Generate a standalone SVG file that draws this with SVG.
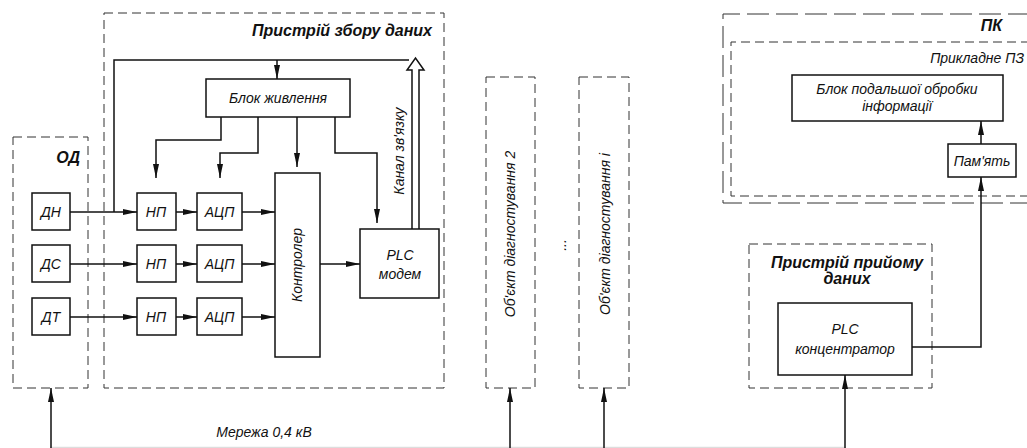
<svg xmlns="http://www.w3.org/2000/svg" width="1027" height="448" viewBox="0 0 1027 448">
<style>
.box{fill:#fff;stroke:#111;stroke-width:1.5}
.dash{fill:none;stroke:#333;stroke-width:1;stroke-dasharray:9 5}
.dashL{fill:none;stroke:#333;stroke-width:1;stroke-dasharray:22 7}
.ln{fill:none;stroke:#111;stroke-width:1.5}
.t{font-family:"Liberation Sans",Arial,sans-serif;font-style:italic;font-size:14px;fill:#111;text-anchor:middle}
.tb{font-family:"Liberation Sans",Arial,sans-serif;font-style:italic;font-weight:bold;font-size:16px;fill:#111}
.e{text-anchor:end}
.m{text-anchor:middle}
</style>
<defs>
<marker id="ah" viewBox="0 0 14 6" refX="14" refY="3" markerWidth="14" markerHeight="6" orient="auto" markerUnits="userSpaceOnUse">
<path d="M0,0 L14,3 L0,6 z" fill="#111"/>
</marker>
</defs>

<g id="network">
<line x1="50" y1="447.5" x2="846" y2="447.5" stroke="#ddd" stroke-width="1.5"/>
<text class="t" x="264" y="437" font-size="15.5">Мережа 0,4 кВ</text>
</g>

<g id="od">
<rect class="dash" x="13" y="137" width="75" height="251"/>
<text class="tb e" x="80" y="163">ОД</text>
</g>
<g id="dn"><rect class="box" x="32" y="193" width="38" height="37"/><text class="t" x="51" y="217">ДН</text></g>
<g id="ds"><rect class="box" x="32" y="245" width="38" height="37"/><text class="t" x="51" y="269">ДС</text></g>
<g id="dt"><rect class="box" x="32" y="298" width="38" height="37"/><text class="t" x="51" y="322">ДТ</text></g>

<g id="collector">
<rect class="dash" x="104" y="13" width="340" height="375"/>
<text class="tb e" x="432" y="36">Пристрій збору даних</text>
</g>
<g id="power"><rect class="box" x="206" y="79" width="144" height="38"/><text class="t" x="278" y="103" font-size="15">Блок живлення</text></g>
<g id="np1"><rect class="box" x="137" y="193" width="39" height="37"/><text class="t" x="156" y="217">НП</text></g>
<g id="np2"><rect class="box" x="137" y="245" width="39" height="37"/><text class="t" x="156" y="269">НП</text></g>
<g id="np3"><rect class="box" x="137" y="298" width="39" height="37"/><text class="t" x="156" y="322">НП</text></g>
<g id="adc1"><rect class="box" x="197" y="193" width="45" height="37"/><text class="t" x="219.5" y="217">АЦП</text></g>
<g id="adc2"><rect class="box" x="197" y="245" width="45" height="37"/><text class="t" x="219.5" y="269">АЦП</text></g>
<g id="adc3"><rect class="box" x="197" y="298" width="45" height="37"/><text class="t" x="219.5" y="322">АЦП</text></g>
<g id="controller"><rect class="box" x="275" y="173" width="45" height="184"/><text class="t" transform="translate(302,265) rotate(-90)">Контролер</text></g>
<g id="plcmodem"><rect class="box" x="360" y="229" width="79" height="69"/><text class="t" x="400" y="260">PLC</text><text class="t" x="400" y="279">модем</text></g>
<text class="t" transform="translate(404,151) rotate(-90)">Канал зв'язку</text>

<g id="obj2"><rect class="dash" x="486" y="77" width="49" height="311"/><text class="t" transform="translate(515,234) rotate(-90)">Об'єкт діагностування 2</text></g>
<text class="t" transform="translate(566,245) rotate(-90)" font-size="10">...</text>
<g id="obji"><rect class="dash" x="579" y="77" width="50" height="311"/><text class="t" transform="translate(610,234) rotate(-90)">Об'єкт діагностування і</text></g>

<g id="pc">
<path class="dashL" d="M1030,14 H723 V203 H1030"/>
<text class="tb e" x="1002" y="31">ПК</text>
</g>
<g id="software">
<path class="dash" d="M1030,42 H731 V196 H1030"/>
<text class="t e" x="1024" y="63">Прикладне ПЗ</text>
</g>
<g id="processing"><rect class="box" x="792" y="75" width="211" height="46"/><text class="t" x="897" y="94">Блок подальшої обробки</text><text class="t" x="897" y="111">інформації</text></g>
<g id="memory"><rect class="box" x="948" y="144" width="68" height="33"/><text class="t" x="982" y="166">Пам'ять</text></g>

<g id="receiver">
<rect class="dash" x="749" y="244" width="183" height="144"/>
<text class="tb m" x="847" y="268">Пристрій прийому</text>
<text class="tb m" x="847" y="284">даних</text>
</g>
<g id="concentrator"><rect class="box" x="778" y="303" width="134" height="72"/><text class="t" x="845" y="334">PLC</text><text class="t" x="845" y="354">концентратор</text></g>

<g id="connectors">
<line class="ln" x1="70" y1="212" x2="137" y2="212" marker-end="url(#ah)"/>
<line class="ln" x1="70" y1="264" x2="137" y2="264" marker-end="url(#ah)"/>
<line class="ln" x1="70" y1="317" x2="137" y2="317" marker-end="url(#ah)"/>
<line class="ln" x1="176" y1="212" x2="197" y2="212" marker-end="url(#ah)"/>
<line class="ln" x1="176" y1="264" x2="197" y2="264" marker-end="url(#ah)"/>
<line class="ln" x1="176" y1="317" x2="197" y2="317" marker-end="url(#ah)"/>
<line class="ln" x1="242" y1="212" x2="275" y2="212" marker-end="url(#ah)"/>
<line class="ln" x1="242" y1="264" x2="275" y2="264" marker-end="url(#ah)"/>
<line class="ln" x1="242" y1="317" x2="275" y2="317" marker-end="url(#ah)"/>
<line class="ln" x1="320" y1="264" x2="360" y2="264" marker-end="url(#ah)"/>
<path class="ln" d="M114,212 V60 H409"/>
<line class="ln" x1="277" y1="60" x2="277" y2="79" marker-end="url(#ah)"/>
<path class="ln" d="M221,117 V140 H156 V178" marker-end="url(#ah)"/>
<path class="ln" d="M258,117 V153 H220 V178" marker-end="url(#ah)"/>
<line class="ln" x1="297" y1="117" x2="297" y2="167" marker-end="url(#ah)"/>
<path class="ln" d="M335,117 V153 H377 V223" marker-end="url(#ah)"/>
<path class="ln" d="M412,229 V70 H407 L415.5,58 L424,70 H419 V229"/>
<line class="ln" x1="51" y1="448" x2="51" y2="388" marker-end="url(#ah)"/>
<line class="ln" x1="510" y1="448" x2="510" y2="388" marker-end="url(#ah)"/>
<line class="ln" x1="604" y1="448" x2="604" y2="388" marker-end="url(#ah)"/>
<line class="ln" x1="845" y1="448" x2="845" y2="375" marker-end="url(#ah)"/>
<path class="ln" d="M912,347 H981 V177" marker-end="url(#ah)"/>
<line class="ln" x1="981" y1="144" x2="981" y2="121" marker-end="url(#ah)"/>
</g>
</svg>
